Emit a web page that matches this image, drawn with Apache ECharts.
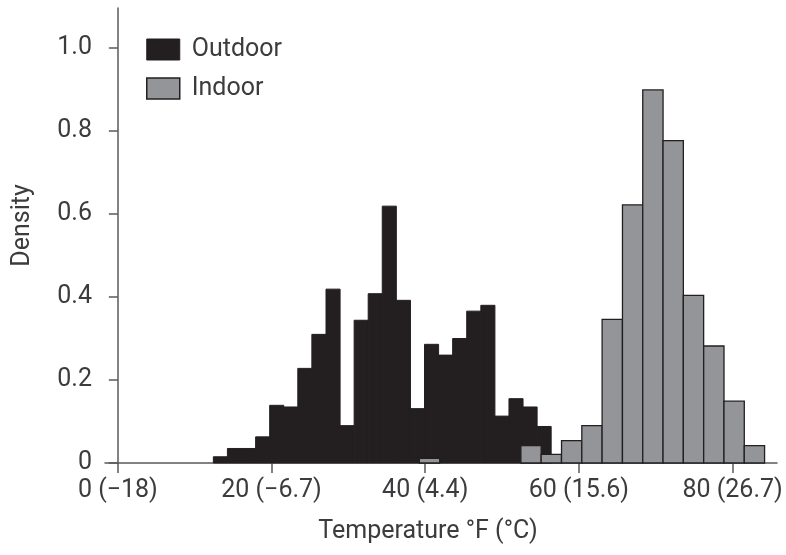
<!DOCTYPE html>
<html>
<head>
<meta charset="utf-8">
<script src="https://cdn.jsdelivr.net/npm/echarts@6/dist/echarts.min.js"></script>
<style>html,body{margin:0;padding:0;background:#fff;}#c{width:786px;height:555px;}</style>
</head>
<body>
<div id="c"></div>
<script>
// Histogram bins (°F): left edges, bin widths, densities
const outdoorLeft = [12.43, 14.26, 16.09, 17.93, 19.76, 21.59, 23.42, 25.25, 27.09, 28.92, 30.75, 32.58,
                     34.41, 36.25, 38.08, 39.91, 41.74, 43.57, 45.40, 47.24, 49.07, 50.90, 52.73, 54.56];
const outdoorWidth = 1.832;
const outdoorDensity = [0.015, 0.035, 0.035, 0.063, 0.139, 0.135, 0.228, 0.310, 0.419, 0.090, 0.344, 0.408,
                        0.619, 0.392, 0.131, 0.286, 0.260, 0.300, 0.366, 0.380, 0.113, 0.155, 0.135, 0.088];

const indoorLeft = [39.24, 52.45, 55.09, 57.74, 60.38, 63.02, 65.67, 68.31, 70.95, 73.59, 76.24, 78.88, 81.52];
const indoorWidth = 2.643;
const indoorDensity = [0.011, 0.042, 0.021, 0.054, 0.090, 0.346, 0.622, 0.899, 0.777, 0.404, 0.282, 0.149, 0.042];

const xTickValues = [0, 20, 40, 60, 80];
const xTickLabels = ['0 (\u221218)', '20 (\u22126.7)', '40 (4.4)', '60 (15.6)', '80 (26.7)'];
const yTickValues = [0, 0.2, 0.4, 0.6, 0.8, 1.0];
const yTickLabels = ['0', '0.2', '0.4', '0.6', '0.8', '1.0'];

const seriesNames = ['Outdoor', 'Indoor'];

const OUT_FILL = '#231f20', IN_FILL = '#939598', EDGE = '#231f20', AXIS = '#5a5a5c', TEXT = '#3c3c3e';
const FONT = 'Roboto';
const FS = 25;

function toData(lefts, width, dens) {
  return lefts.map((l, i) => [l, l + width, dens[i]]);
}
function makeRender(fill, stroke, lw) {
  return function (params, api) {
    const p0 = api.coord([api.value(0), api.value(2)]);
    const p1 = api.coord([api.value(1), 0]);
    return {
      type: 'rect',
      shape: { x: p0[0], y: p0[1], width: p1[0] - p0[0], height: p1[1] - p0[1] },
      style: { fill: fill, stroke: stroke, lineWidth: lw }
    };
  };
}

const chart = echarts.init(document.getElementById('c'), null, { renderer: 'canvas' });
chart.setOption({
  animation: false,
  backgroundColor: '#fff',
  textStyle: { fontFamily: FONT },
  grid: { left: 105, right: 9, top: 8, bottom: 92, containLabel: false, outerBoundsMode: 'none' },
  legend: {
    orient: 'vertical',
    left: 141,
    top: 32,
    itemWidth: 33,
    itemHeight: 21,
    itemGap: 14,
    textStyle: { fontFamily: FONT, fontSize: FS, color: TEXT, padding: [0, 0, 0, 7] },
    data: [
      { name: seriesNames[0], icon: 'rect', itemStyle: { color: OUT_FILL, borderColor: EDGE, borderWidth: 1 } },
      { name: seriesNames[1], icon: 'rect', itemStyle: { color: IN_FILL, borderColor: EDGE, borderWidth: 1.5 } }
    ]
  },
  xAxis: {
    type: 'value',
    min: -1.67,
    max: 85.78,
    splitLine: { show: false },
    axisLine: { show: true, onZero: false, lineStyle: { color: AXIS, width: 1.5 } },
    axisTick: { show: true, inside: false, length: 10, customValues: xTickValues, lineStyle: { color: AXIS, width: 1.5 } },
    axisLabel: {
      customValues: xTickValues,
      margin: 15,
      fontFamily: FONT, fontSize: FS, color: TEXT,
      formatter: function (v) { const i = xTickValues.indexOf(Math.round(v)); return i >= 0 ? xTickLabels[i] : ''; }
    },
    name: 'Temperature \u00b0F (\u00b0C)',
    nameLocation: 'middle',
    nameGap: 56,
    nameTextStyle: { fontFamily: FONT, fontSize: FS, color: TEXT, padding: [0, 26, 0, 0] }
  },
  yAxis: {
    type: 'value',
    min: 0,
    max: 1.0965,
    splitLine: { show: false },
    axisLine: { show: true, lineStyle: { color: AXIS, width: 1.5 } },
    axisTick: { show: true, inside: false, length: 9, customValues: yTickValues, lineStyle: { color: AXIS, width: 1.5 } },
    axisLabel: {
      customValues: yTickValues,
      margin: 13,
      fontFamily: FONT, fontSize: FS, color: TEXT,
      formatter: function (v) { const i = yTickValues.findIndex(t => Math.abs(t - v) < 1e-6); return i >= 0 ? yTickLabels[i] : ''; }
    },
    name: 'Density',
    nameLocation: 'middle',
    nameGap: 70,
    nameTextStyle: { fontFamily: FONT, fontSize: FS, color: TEXT, padding: [0, 0, 0, 20] }
  },
  series: [
    {
      name: seriesNames[0],
      type: 'custom',
      renderItem: makeRender(OUT_FILL, OUT_FILL, 1),
      itemStyle: { color: OUT_FILL },
      encode: { x: [0, 1], y: 2 },
      data: toData(outdoorLeft, outdoorWidth, outdoorDensity),
      z: 2
    },
    {
      name: seriesNames[1],
      type: 'custom',
      renderItem: makeRender(IN_FILL, EDGE, 1.3),
      itemStyle: { color: IN_FILL },
      encode: { x: [0, 1], y: 2 },
      data: toData(indoorLeft, indoorWidth, indoorDensity),
      z: 3
    }
  ]
});
</script>
</body>
</html>
